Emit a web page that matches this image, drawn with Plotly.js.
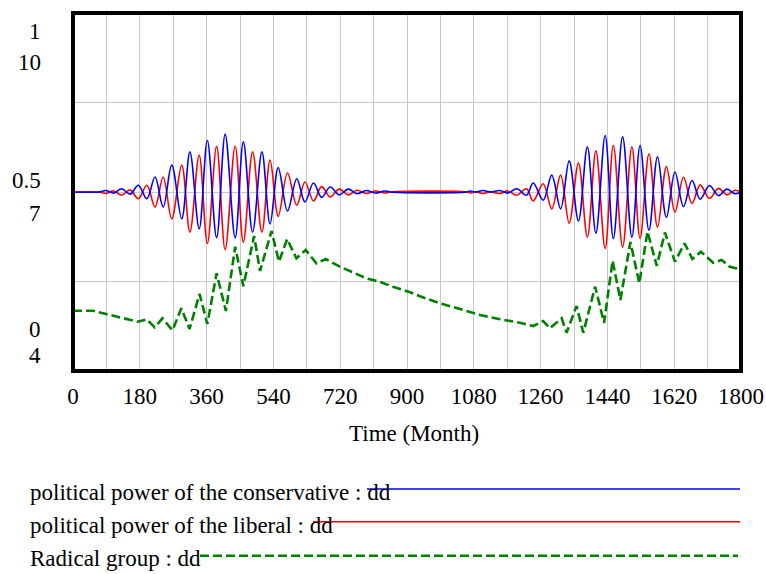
<!DOCTYPE html>
<html>
<head>
<meta charset="utf-8">
<script src="https://cdn.plot.ly/plotly-3.0.1.min.js"></script>
<style>html,body{margin:0;padding:0;background:#fff;}#chart{width:766px;height:574px;}</style>
</head>
<body>
<div id="chart"></div>
<script>
// ---- data ----
const xTickVals = [0, 180, 360, 540, 720, 900, 1080, 1260, 1440, 1620, 1800];
const xTickText = ["0", "180", "360", "540", "720", "900", "1080", "1260", "1440", "1620", "1800"];

// conservative / liberal (0..1 axis), turning points of the oscillations
const oscMonths = [0, 70, 88, 110, 131, 154, 176, 199, 221, 243, 266, 293, 315, 340, 362, 387, 410, 437, 459, 484,
  509, 531, 553, 578, 603, 625, 648, 670, 693, 717, 742, 765, 790, 815, 840, 855,
  1060, 1070, 1085, 1105, 1125, 1150, 1172, 1196, 1222, 1240, 1267, 1290, 1314, 1337, 1362, 1386, 1409,
  1434, 1456, 1481, 1506, 1528, 1552, 1575, 1599, 1622, 1645, 1668, 1690, 1715, 1739, 1762, 1784, 1800];
const conservative = [0.5, 0.5, 0.504, 0.497, 0.509, 0.494, 0.519, 0.481, 0.542, 0.458, 0.575, 0.425, 0.612, 0.397, 0.644, 0.372, 0.661, 0.372, 0.640, 0.388,
  0.612, 0.411, 0.568, 0.447, 0.537, 0.472, 0.525, 0.485, 0.514, 0.492, 0.508, 0.495, 0.504, 0.497, 0.503, 0.5,
  0.5, 0.503, 0.5, 0.504, 0.5, 0.504, 0.497, 0.509, 0.491, 0.525, 0.477, 0.547, 0.453, 0.587, 0.419, 0.626, 0.385,
  0.658, 0.370, 0.654, 0.374, 0.630, 0.393, 0.598, 0.429, 0.556, 0.459, 0.532, 0.480, 0.518, 0.490, 0.508, 0.495, 0.5];
const liberal = [0.5, 0.5, 0.496, 0.503, 0.491, 0.506, 0.481, 0.519, 0.458, 0.542, 0.425, 0.575, 0.388, 0.603, 0.356, 0.628, 0.339, 0.628, 0.360, 0.612,
  0.388, 0.589, 0.432, 0.553, 0.463, 0.528, 0.475, 0.515, 0.486, 0.508, 0.492, 0.505, 0.496, 0.503, 0.497, 0.5,
  0.5, 0.497, 0.5, 0.496, 0.5, 0.496, 0.503, 0.491, 0.509, 0.475, 0.523, 0.453, 0.547, 0.413, 0.581, 0.374, 0.615,
  0.342, 0.630, 0.346, 0.626, 0.370, 0.607, 0.402, 0.571, 0.444, 0.541, 0.468, 0.520, 0.482, 0.510, 0.492, 0.505, 0.5];

// radical group (4..10 axis)
const radMonths = [0, 54, 89, 135, 175, 199, 220, 241, 268, 292, 314, 341, 362, 387, 412, 437, 459, 488, 504, 535,
  555, 577, 602, 627, 656, 681, 719, 754, 790, 826, 862, 912, 935, 989, 1043, 1097, 1151, 1204, 1240, 1267,
  1285, 1317, 1330, 1357, 1375, 1407, 1431, 1454, 1475, 1502, 1526, 1548, 1573, 1595, 1622, 1648, 1669, 1692,
  1725, 1748, 1770, 1797, 1800];
const radical = [5.01, 5.01, 4.955, 4.883, 4.826, 4.866, 4.732, 4.883, 4.682, 5.051, 4.704, 5.291, 4.788, 5.637, 5.006, 6.083, 5.420, 6.263, 5.676, 6.346,
  5.832, 6.212, 5.889, 6.028, 5.805, 5.877, 5.748, 5.654, 5.554, 5.497, 5.413, 5.312, 5.252, 5.135, 5.034, 4.939, 4.866, 4.809, 4.754, 4.838,
  4.716, 4.883, 4.642, 5.089, 4.642, 5.413, 4.804, 5.849, 5.190, 6.162, 5.470, 6.335, 5.763, 6.321, 5.832, 6.140, 5.877, 6.000,
  5.815, 5.860, 5.748, 5.704, 5.70];

const seriesNames = ["political power of the conservative : dd", "political power of the liberal : dd", "Radical group : dd"];
const leftLabels = [["1", 31], ["10", 62], ["0.5", 180], ["7", 213], ["0", 329], ["4", 355]];

// ---- layout geometry (pixels) ----
const W = 766, H = 574, L = 73, R = 741, T = 13, B = 371;
const pw = R - L, ph = B - T;
const px = x => (x - L) / pw;
const py = y => (B - y) / ph;
const FONT = "Liberation Serif, Times New Roman, serif";
const FS = 23;

const traces = [
  {x: radMonths, y: radical, yaxis: "y2", mode: "lines", name: seriesNames[2],
   line: {color: "#008000", width: 2.6, dash: "9px,4px"}},
  {x: oscMonths, y: liberal, mode: "lines", name: seriesNames[1],
   line: {color: "#ff0000", width: 1.6, shape: "spline", smoothing: 1}},
  {x: oscMonths, y: conservative, mode: "lines", name: seriesNames[0],
   line: {color: "#0000ff", width: 1.6, shape: "spline", smoothing: 1}}
];

const annotations = leftLabels.map(([t, yy]) => ({
  text: t, xref: "paper", yref: "paper", x: px(43), y: py(yy), xanchor: "right", yanchor: "middle",
  showarrow: false, font: {family: FONT, size: FS, color: "#000"}
}));
annotations.push({text: "Time (Month)", xref: "paper", yref: "paper", x: px(414), y: py(433),
  xanchor: "center", yanchor: "middle", showarrow: false, font: {family: FONT, size: FS, color: "#000"}});
const legendY = [493, 525, 558];
seriesNames.forEach((n, i) => annotations.push({text: n, xref: "paper", yref: "paper", x: px(28), y: py(legendY[i]),
  xanchor: "left", yanchor: "middle", showarrow: false, font: {family: FONT, size: FS, color: "#000"}}));

const shapes = [
  {type: "line", xref: "paper", yref: "paper", x0: px(367), x1: px(740), y0: py(489), y1: py(489), line: {color: "#0000ff", width: 1.6}},
  {type: "line", xref: "paper", yref: "paper", x0: px(313), x1: px(740), y0: py(521.7), y1: py(521.7), line: {color: "#ff0000", width: 1.6}},
  {type: "line", xref: "paper", yref: "paper", x0: px(200), x1: px(738), y0: py(555.7), y1: py(555.7), line: {color: "#008000", width: 2.6, dash: "9px,4px"}},
  {type: "rect", xref: "paper", yref: "paper", x0: 0, x1: 1, y0: 0, y1: 1, layer: "above", line: {color: "#000", width: 4}}
];

const layout = {
  width: W, height: H,
  margin: {l: L, r: W - R, t: T, b: H - B, pad: 0},
  paper_bgcolor: "#fff", plot_bgcolor: "#fff",
  showlegend: false,
  font: {family: FONT, size: FS, color: "#000"},
  xaxis: {range: [0, 1800], tickvals: xTickVals, ticktext: xTickText, ticks: "", showgrid: true,
    gridcolor: "#c8c8c8", gridwidth: 1, zeroline: false, showline: false, ticklabelstandoff: 9,
    minor: {dtick: 90, showgrid: true, gridcolor: "#c8c8c8", gridwidth: 1},
    tickfont: {family: FONT, size: FS, color: "#000"}},
  yaxis: {range: [0, 1], tickvals: [0, 0.25, 0.5, 0.75, 1], showticklabels: false, ticks: "",
    gridcolor: "#c8c8c8", gridwidth: 1, zeroline: false, showline: false},
  yaxis2: {range: [4, 10], overlaying: "y", side: "left", showgrid: false, showticklabels: false,
    zeroline: false, ticks: "", showline: false},
  annotations: annotations,
  shapes: shapes
};

Plotly.newPlot("chart", traces, layout, {displayModeBar: false, staticPlot: true});
</script>
</body>
</html>
